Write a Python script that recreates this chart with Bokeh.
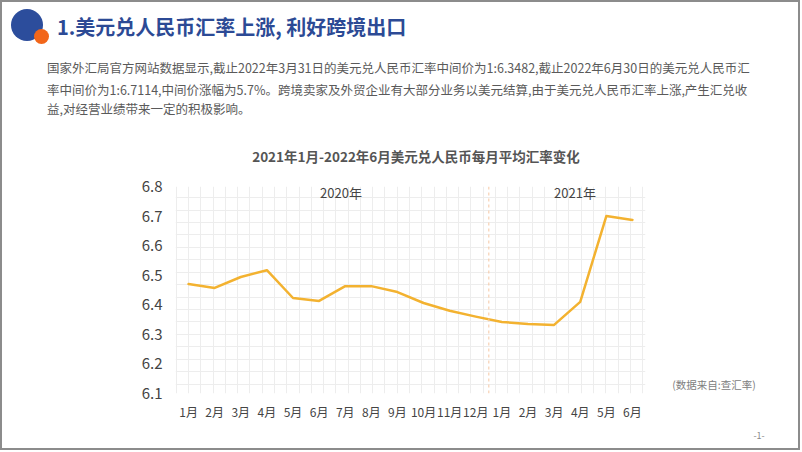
from bokeh.plotting import figure
from bokeh.layouts import column, row
from bokeh.models import Range1d, FixedTicker, SingleIntervalTicker, Grid, Span, Label, PrintfTickFormatter, Div
from bokeh.embed import file_html
from bokeh.resources import INLINE

# ---------------- data ----------------
month_labels = ["1月", "2月", "3月", "4月", "5月", "6月", "7月", "8月", "9月", "10月", "11月", "12月",
                "1月", "2月", "3月", "4月", "5月", "6月"]
rates = [6.470, 6.457, 6.494, 6.517, 6.423, 6.413, 6.463, 6.463, 6.443, 6.406, 6.380, 6.360,
         6.342, 6.335, 6.332, 6.410, 6.700, 6.687]
y_ticks = [6.1, 6.2, 6.3, 6.4, 6.5, 6.6, 6.7, 6.8]
year_labels = ["2020年", "2021年"]

page_title = "1.美元兑人民币汇率上涨, 利好跨境出口"
paragraph = [
    "国家外汇局官方网站数据显示,截止2022年3月31日的美元兑人民币汇率中间价为1:6.3482,截止2022年6月30日的美元兑人民币汇",
    "率中间价为1:6.7114,中间价涨幅为5.7%。跨境卖家及外贸企业有大部分业务以美元结算,由于美元兑人民币汇率上涨,产生汇兑收",
    "益,对经营业绩带来一定的积极影响。",
]
chart_title = "2021年1月-2022年6月美元兑人民币每月平均汇率变化"
source_note = "(数据来自:查汇率)"
page_no = "-1-"

FONT = "'Noto Sans CJK SC', 'Noto Sans', sans-serif"
HEAD_H = 170
CHART_W = 676
CHART_H = 452 - HEAD_H
NOTE_W = 802 - CHART_W

# ---------------- header (HTML) ----------------
para_html = "".join(
    f'<div style="position:absolute;left:47px;top:{c - 10}px;line-height:20px;font-size:12.5px;'
    f'color:#5A5A5A;white-space:nowrap;">{t}</div>'
    for t, c in zip(paragraph, [68, 89.5, 109])
)
head_html = f"""
<div style="position:relative;width:802px;height:{HEAD_H}px;font-family:{FONT};background:white;">
  <div style="position:absolute;left:0;top:0;width:800px;height:450px;box-sizing:border-box;
              border:2px solid #8C8C8C;z-index:100;pointer-events:none;"></div>
  <div style="position:absolute;left:11px;top:9px;width:32px;height:32px;border-radius:50%;background:#2C4D9C;"></div>
  <div style="position:absolute;left:34px;top:29px;width:15px;height:15px;border-radius:50%;background:#F2661A;"></div>
  <div style="position:absolute;left:57px;top:15px;line-height:24px;font-size:20px;font-weight:bold;
              color:#2C4A95;white-space:nowrap;">{page_title}</div>
  {para_html}
  <div style="position:absolute;left:16px;width:800px;top:146px;line-height:20px;text-align:center;
              font-size:13.5px;font-weight:bold;color:#555555;white-space:nowrap;">{chart_title}</div>
</div>
"""
head = Div(text=head_html, width=802, height=HEAD_H, margin=0, styles={"overflow": "visible"})

# ---------------- chart ----------------
xs = list(range(len(rates)))
p = figure(width=CHART_W, height=CHART_H, x_range=Range1d(-0.5, 17.5), y_range=Range1d(6.1, 6.8),
           output_backend="svg", toolbar_location=None,
           min_border_left=175, min_border_right=CHART_W - 645, min_border_top=186 - HEAD_H,
           min_border_bottom=452 - 393)
p.outline_line_color = None
p.background_fill_color = "white"
p.border_fill_color = "white"
p.xgrid.visible = False
p.ygrid.visible = False
p.add_layout(Grid(dimension=0, ticker=SingleIntervalTicker(interval=0.47),
                  grid_line_color="#EDEDED", grid_line_width=1))
p.add_layout(Grid(dimension=1, ticker=SingleIntervalTicker(interval=0.042),
                  grid_line_color="#EDEDED", grid_line_width=1))

p.yaxis.ticker = FixedTicker(ticks=y_ticks)
p.yaxis.formatter = PrintfTickFormatter(format="%.1f")
p.xaxis.ticker = FixedTicker(ticks=xs)
p.xaxis.major_label_overrides = {i: lab for i, lab in enumerate(month_labels)}
for ax in (p.xaxis[0], p.yaxis[0]):
    ax.axis_line_color = None
    ax.major_tick_line_color = None
    ax.minor_tick_line_color = None
    ax.major_label_text_font = "Noto Sans CJK SC"
    ax.major_label_text_color = "#444444"
p.yaxis.major_label_text_font_size = "15px"
p.yaxis.major_label_standoff = 7
p.xaxis.major_label_text_font_size = "12px"
p.xaxis.major_label_standoff = 3

p.add_layout(Span(location=11.5, dimension="height", line_color="#F5C7A3", line_dash="3 3", line_width=1))

p.line(xs, rates, line_color="#F3B230", line_width=2.5, line_join="round", line_cap="round")

p.add_layout(Label(x=5.84, y=6.78, text=year_labels[0], text_font="Noto Sans CJK SC", text_font_size="13px",
                   text_color="#444444", text_align="center", text_baseline="middle"))
p.add_layout(Label(x=14.8, y=6.78, text=year_labels[1], text_font="Noto Sans CJK SC", text_font_size="13px",
                   text_color="#444444", text_align="center", text_baseline="middle"))

# ---------------- right-side notes (HTML) ----------------
note_html = f"""
<div style="position:relative;width:{NOTE_W}px;height:{CHART_H}px;font-family:{FONT};background:white;">
  <div style="position:absolute;left:{714 - CHART_W - 50}px;width:100px;top:{385 - HEAD_H - 8}px;line-height:16px;
              text-align:center;font-size:10.5px;color:#808080;white-space:nowrap;">{source_note}</div>
  <div style="position:absolute;left:{759 - CHART_W - 20}px;width:40px;top:{436 - HEAD_H - 7}px;line-height:14px;
              text-align:center;font-size:9px;color:#8A8A8A;white-space:nowrap;">{page_no}</div>
</div>
"""
note = Div(text=note_html, width=NOTE_W, height=CHART_H, margin=0)

layout = column(head, row(p, note, spacing=0), spacing=0)
open("out.html", "w").write(file_html(layout, INLINE))
